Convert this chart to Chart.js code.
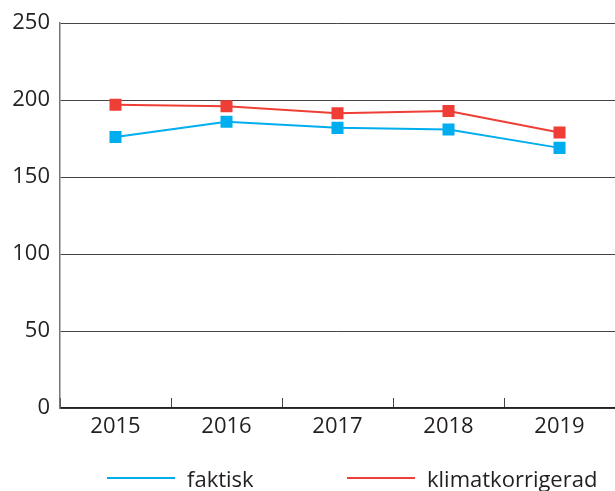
<!DOCTYPE html>
<html>
<head>
<meta charset="utf-8">
<script src="https://cdn.jsdelivr.net/npm/chart.js@4"></script>
<style>
  body { margin: 0; background: #fff; }
  #wrap { position: relative; width: 615px; height: 491px; }
  #legend { position: absolute; left: 0; top: 464px; width: 615px; height: 27px;
    font-family: "Open Sans", sans-serif; font-size: 22px; color: #231f20; }
  .item { position: absolute; top: 0; display: flex; align-items: center; height: 27px; }
  .item span.line { display: inline-block; width: 68px; height: 2px; margin-right: 12px; }
</style>
</head>
<body>
<div id="wrap">
  <canvas id="myChart" width="615" height="491"></canvas>
  <div id="legend"></div>
</div>
<script>
const years = ["2015", "2016", "2017", "2018", "2019"];
const faktisk = [176, 186, 182, 181, 169];
const klimatkorrigerad = [197, 196, 191.5, 193, 179];
const yTicks = [0, 50, 100, 150, 200, 250];

const blue = "#00aeef";
const red = "#ef3e36";
const textColor = "#231f20";

const myChart = document.getElementById("myChart");

new Chart(myChart, {
  type: "line",
  data: {
    labels: years,
    datasets: [
      {
        label: "faktisk",
        data: faktisk,
        borderColor: blue,
        backgroundColor: blue,
        borderWidth: 2,
        pointStyle: "rect",
        pointRadius: 8.5,
        pointBorderWidth: 0,
        tension: 0,
      },
      {
        label: "klimatkorrigerad",
        data: klimatkorrigerad,
        borderColor: red,
        backgroundColor: red,
        borderWidth: 2,
        pointStyle: "rect",
        pointRadius: 8.5,
        pointBorderWidth: 0,
        tension: 0,
      },
    ],
  },
  options: {
    responsive: false,
    animation: false,
    layout: { autoPadding: false, padding: { top: 22, right: 0, bottom: 0, left: 0 } },
    plugins: {
      legend: { display: false },
      tooltip: { enabled: false },
    },
    scales: {
      x: {
        offset: true,
        grid: {
          offset: true,
          drawOnChartArea: false,
          tickLength: -10,
          color: "#444",
        },
        border: { color: "#222", width: 1.5 },
        ticks: {
          padding: 16,
          color: textColor,
          font: { family: "Open Sans", size: 22 },
        },
        afterFit: (scale) => {
          scale.height = 83;
          scale.paddingLeft = 0;
          scale.paddingRight = 0;
        },
      },
      y: {
        min: 0,
        max: 250,
        afterBuildTicks: (scale) => {
          scale.ticks = yTicks.map((v) => ({ value: v }));
        },
        grid: { drawTicks: false, color: "#444" },
        border: { color: "#777", width: 1.5 },
        ticks: {
          padding: 10,
          color: textColor,
          font: { family: "Open Sans", size: 22 },
        },
        afterFit: (scale) => { scale.width = 60; },
      },
    },
  },
});

// legend i html under grafen
const legend = document.getElementById("legend");
const legendItems = [
  { text: "faktisk", color: blue, left: 107 },
  { text: "klimatkorrigerad", color: red, left: 347 },
];
legendItems.forEach((it) => {
  const div = document.createElement("div");
  div.className = "item";
  div.style.left = it.left + "px";
  div.innerHTML = '<span class="line" style="background:' + it.color + '"></span>' + it.text;
  legend.appendChild(div);
});
</script>
</body>
</html>
